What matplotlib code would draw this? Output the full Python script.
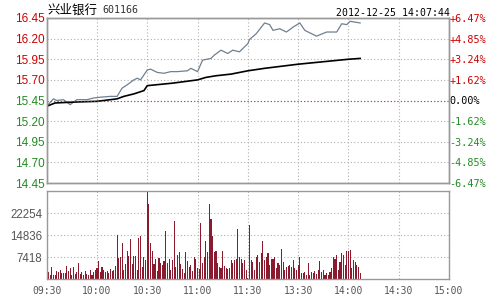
import numpy as np
import matplotlib
matplotlib.use("Agg")
import matplotlib.pyplot as plt

# stock / header info
stock_name = "兴业银行"
stock_code = "601166"
timestamp = "2012-12-25 14:07:44"
prev_close = 15.45

# price line (minute index from 09:30, afternoon continues after 11:30)
price_idx = [0, 4, 6, 10, 14, 18, 24, 28, 32, 38, 42, 45, 48, 52, 54, 56, 60, 62, 66, 70,
             74, 78, 84, 86, 90, 93, 98, 100, 104, 108, 111, 115, 120, 121, 125, 130, 133,
             135, 139, 143, 147, 151, 154, 157, 161, 167, 173, 176, 179, 181, 184, 187]
price_val = [15.38, 15.47, 15.45, 15.46, 15.40, 15.46, 15.46, 15.48, 15.49, 15.50, 15.50,
             15.60, 15.64, 15.70, 15.72, 15.70, 15.82, 15.83, 15.79, 15.78, 15.80, 15.80,
             15.81, 15.84, 15.80, 15.94, 15.96, 16.00, 16.06, 16.02, 16.06, 16.04, 16.14,
             16.19, 16.26, 16.39, 16.37, 16.30, 16.32, 16.28, 16.34, 16.39, 16.30, 16.27,
             16.23, 16.28, 16.28, 16.38, 16.37, 16.41, 16.40, 16.39]

# average price line
avg_idx = [0, 5, 15, 30, 42, 46, 52, 58, 60, 65, 75, 90, 95, 101, 110, 120, 130, 150, 170, 180, 187]
avg_val = [15.38, 15.42, 15.43, 15.44, 15.47, 15.50, 15.53, 15.57, 15.63, 15.64, 15.66,
           15.70, 15.73, 15.75, 15.77, 15.81, 15.84, 15.89, 15.93, 15.95, 15.96]

# volume per minute
vol_am = [3000, 2500, 1500, 4000, 1200, 1500, 2800, 2200, 3200, 2000,
          2000, 2000, 4400, 2800, 3600, 1500, 4200, 1800, 2500, 5300,
          1800, 2300, 1200, 2800, 1600, 1200, 3000, 1500, 2500, 3200,
          3800, 6200, 2500, 4000, 3000, 2200, 2800, 2000, 3500, 2600,
          3000, 4500, 14800, 7200, 7400, 12300, 3000, 5000, 9400, 7700,
          13400, 5000, 7700, 7600, 3000, 13800, 14500, 4000, 7500, 6300,
          29400, 25300, 12300, 9400, 5000, 6600, 2600, 7200, 5300, 4800,
          6100, 16200, 5400, 6600, 3000, 6300, 19600, 4200, 8200, 9000,
          5000, 3500, 2000, 9000, 6000, 4000, 4600, 2600, 7500, 6800,
          3600, 3500, 18800, 5500, 7500, 12800, 9000, 25300, 20100, 14500,
          9000, 9600, 5300, 3900, 3600, 9600, 4400, 3600, 3500, 3600,
          6500, 5300, 6500, 6800, 16800, 7500, 6700, 5300, 6500, 3000, 500]
vol_pm = [18200, 6300, 5800, 3000, 7500, 8100, 5800, 8600, 12800, 6300,
          7500, 8800, 4700, 6900, 6600, 7500, 3600, 5300, 4700, 10100,
          5800, 3000, 3900, 4400, 4700, 4200, 6300, 3600, 3000, 4700,
          7500, 1900, 1900, 2500, 1300, 5300, 1300, 2500, 1900, 2800,
          1600, 3000, 6000, 2500, 3000, 1300, 1900, 1300, 2500, 3600,
          7500, 6600, 8100, 3000, 5800, 8800, 8100, 4700, 9400, 9500,
          9700, 3600, 6300, 5800, 4700, 4200, 1900]

time_labels = ["09:30", "10:00", "10:30", "11:00", "11:30", "13:30", "14:00", "14:30", "15:00"]
price_ticks = [14.45, 14.70, 14.95, 15.20, 15.45, 15.70, 15.95, 16.20, 16.45]
pct_labels = ["-6.47%", "-4.85%", "-3.24%", "-1.62%", "0.00%", "+1.62%", "+3.24%", "+4.85%", "+6.47%"]
vol_ticks = [7418, 14836, 22254]

RED = "#cc0000"
GREEN = "#228b22"
GRID = "#b0b0b0"
FRAME = "#999999"
MONO = "DejaVu Sans Mono"
SANS = "Liberation Sans"

fig = plt.figure(figsize=(5, 3), dpi=100)
ax = fig.add_axes([0.0934, 0.39, 0.8046, 0.55])
axv = fig.add_axes([0.0934, 0.07, 0.8046, 0.2933])

xticks = np.arange(0, 241, 30)

# main price panel
ax.plot(price_idx, price_val, color="#6f8090", lw=0.9)
ax.plot(avg_idx, avg_val, color="black", lw=1.2)
ax.axhline(prev_close, color="#cc3333", lw=0.8, ls=(0, (1, 2)))
ax.set_xlim(0, 240)
ax.set_ylim(14.45, 16.45)
ax.set_yticks(price_ticks)
ax.set_xticks(xticks)
ax.grid(True, color=GRID, ls=(0, (1, 2)), lw=0.8)
ax.tick_params(length=0, labelbottom=False, pad=1.5)
ax.set_yticklabels(["%.2f" % p for p in price_ticks], family=SANS, fontsize=8.5)
for lbl, p in zip(ax.get_yticklabels(), price_ticks):
    lbl.set_color(RED if p > prev_close + 0.01 else GREEN)

axr = ax.twinx()
axr.set_ylim(14.45, 16.45)
axr.set_yticks(price_ticks)
axr.set_yticklabels(pct_labels, family=MONO, fontsize=7.3)
axr.tick_params(length=0, pad=0.5)
for lbl, p in zip(axr.get_yticklabels(), price_ticks):
    if p > prev_close + 0.01:
        lbl.set_color(RED)
    elif p < prev_close - 0.01:
        lbl.set_color(GREEN)
    else:
        lbl.set_color("black")

# volume panel
vol = vol_am + vol_pm
axv.bar(np.arange(len(vol)), vol, width=0.65, color="#8b1a2e", linewidth=0)
axv.set_xlim(0, 240)
axv.set_ylim(0, 29672)
axv.set_yticks(vol_ticks)
axv.set_yticklabels([str(v) for v in vol_ticks], family=SANS, fontsize=8.3)
axv.set_xticks(xticks)
axv.set_xticklabels(time_labels, family=MONO, fontsize=7)
axv.grid(True, color=GRID, ls=(0, (1, 2)), lw=0.8)
axv.set_axisbelow(True)
axv.tick_params(length=0, colors="#555555")
axv.tick_params(axis="y", pad=3)
axv.tick_params(axis="x", pad=5)

for a in (ax, axr, axv):
    for s in a.spines.values():
        s.set_color(FRAME)
        s.set_linewidth(1.0)

fig.text(0.094, 0.967, stock_name, family=["Noto Sans CJK SC", "DejaVu Sans"],
         fontsize=9, va="center", ha="left")
fig.text(0.204, 0.967, stock_code, family=MONO, fontsize=7.2,
         color="#333333", va="center", ha="left")
fig.text(0.9, 0.958, timestamp, family=MONO, fontsize=7.1,
         va="center", ha="right")

fig.savefig("out.png", dpi=100)
